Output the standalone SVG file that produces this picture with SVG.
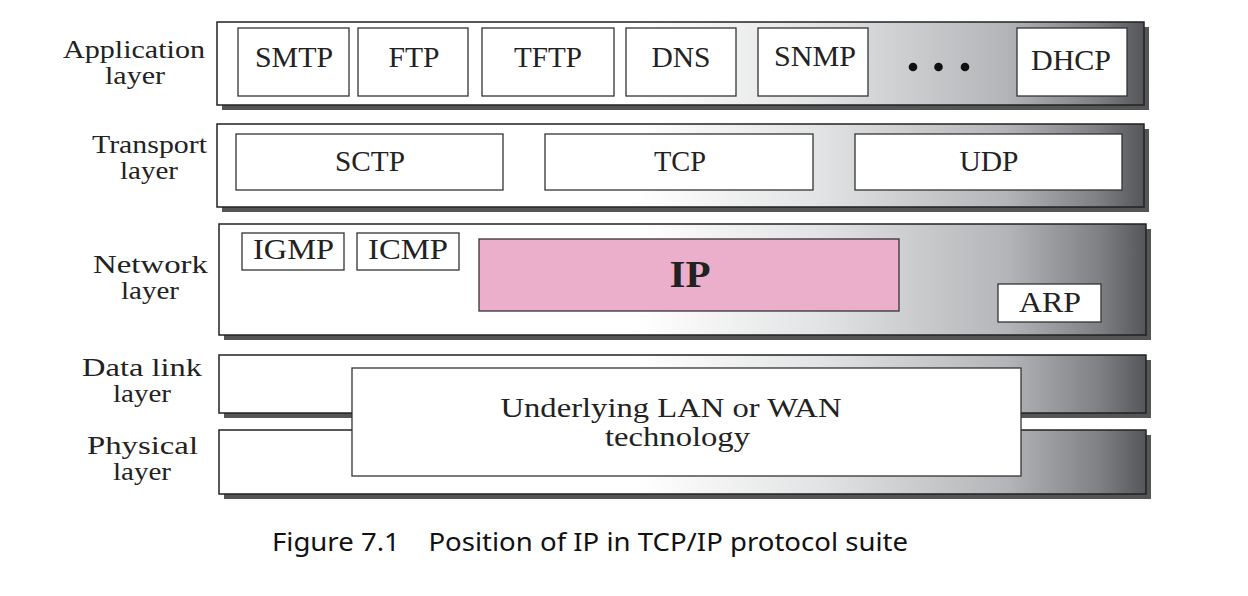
<svg xmlns="http://www.w3.org/2000/svg" width="1248" height="596" viewBox="0 0 1248 596">
<defs>
<linearGradient id="g" x1="0" y1="0" x2="1" y2="0">
<stop offset="0" stop-color="#ffffff"/>
<stop offset="0.45" stop-color="#ffffff"/>
<stop offset="0.65" stop-color="#e2e3e4"/>
<stop offset="0.85" stop-color="#b4b5b8"/>
<stop offset="0.95" stop-color="#7f8083"/>
<stop offset="1" stop-color="#55565a"/>
</linearGradient>
</defs>
<style>
.band{fill:url(#g);stroke:#222;stroke-width:1.5}
.shadow{fill:#555}
.box{fill:#fff;stroke:#333;stroke-width:1.3}
.t{font-family:"Liberation Serif",serif;font-size:30px;fill:#222;text-anchor:middle}
.lbl{font-family:"Liberation Serif",serif;font-size:25px;fill:#222;text-anchor:middle}
.cap{font-family:"Noto Sans","Open Sans",sans-serif;font-size:25px;fill:#111}
</style>
<rect width="1248" height="596" fill="#fff"/>
<g id="layer-labels">
<text class="lbl" x="134" y="58" textLength="142" lengthAdjust="spacingAndGlyphs">Application</text>
<text class="lbl" x="135" y="84" textLength="60" lengthAdjust="spacingAndGlyphs">layer</text>
<text class="lbl" x="149.5" y="153" textLength="115" lengthAdjust="spacingAndGlyphs">Transport</text>
<text class="lbl" x="149" y="179" textLength="58" lengthAdjust="spacingAndGlyphs">layer</text>
<text class="lbl" x="150.5" y="273" textLength="115" lengthAdjust="spacingAndGlyphs">Network</text>
<text class="lbl" x="150" y="299" textLength="58" lengthAdjust="spacingAndGlyphs">layer</text>
<text class="lbl" x="142" y="376" textLength="120" lengthAdjust="spacingAndGlyphs">Data link</text>
<text class="lbl" x="142" y="402" textLength="58" lengthAdjust="spacingAndGlyphs">layer</text>
<text class="lbl" x="142.5" y="454" textLength="111" lengthAdjust="spacingAndGlyphs">Physical</text>
<text class="lbl" x="142" y="480" textLength="58" lengthAdjust="spacingAndGlyphs">layer</text>
</g>
<g id="application-layer">
<rect class="shadow" x="222" y="27" width="927" height="83"/>
<rect class="band" x="217" y="22" width="927" height="83"/>
</g>
<g id="smtp"><rect class="box" x="238" y="28" width="111" height="68"/><text class="t" x="294" y="67" textLength="78" lengthAdjust="spacingAndGlyphs">SMTP</text></g>
<g id="ftp"><rect class="box" x="358" y="28" width="110" height="68"/><text class="t" x="414" y="67" textLength="51" lengthAdjust="spacingAndGlyphs">FTP</text></g>
<g id="tftp"><rect class="box" x="482" y="28" width="132" height="68"/><text class="t" x="548" y="67" textLength="68" lengthAdjust="spacingAndGlyphs">TFTP</text></g>
<g id="dns"><rect class="box" x="626" y="28" width="110" height="68"/><text class="t" x="681" y="67" textLength="59" lengthAdjust="spacingAndGlyphs">DNS</text></g>
<g id="snmp"><rect class="box" x="758" y="28" width="110" height="68"/><text class="t" x="815" y="66" textLength="82" lengthAdjust="spacingAndGlyphs">SNMP</text></g>
<g id="dots" fill="#111"><circle cx="913" cy="67" r="4.3"/><circle cx="938.5" cy="67" r="4.3"/><circle cx="965" cy="67" r="4.3"/></g>
<g id="dhcp"><rect class="box" x="1017" y="28" width="110" height="68"/><text class="t" x="1071" y="70" textLength="80" lengthAdjust="spacingAndGlyphs">DHCP</text></g>
<g id="transport-layer">
<rect class="shadow" x="222" y="129" width="927" height="83"/>
<rect class="band" x="217" y="124" width="927" height="83"/>
</g>
<g id="sctp"><rect class="box" x="236" y="134" width="267" height="56"/><text class="t" x="370" y="171" textLength="70" lengthAdjust="spacingAndGlyphs">SCTP</text></g>
<g id="tcp"><rect class="box" x="545" y="134" width="268" height="56"/><text class="t" x="680" y="171" textLength="52" lengthAdjust="spacingAndGlyphs">TCP</text></g>
<g id="udp"><rect class="box" x="855" y="134" width="267" height="56"/><text class="t" x="989" y="171" textLength="59" lengthAdjust="spacingAndGlyphs">UDP</text></g>
<g id="network-layer">
<rect class="shadow" x="224" y="229" width="927" height="111"/>
<rect class="band" x="219" y="224" width="927" height="111"/>
</g>
<g id="igmp"><rect class="box" x="242" y="233" width="102" height="37"/><text class="t" x="293.5" y="259" textLength="81" lengthAdjust="spacingAndGlyphs">IGMP</text></g>
<g id="icmp"><rect class="box" x="357" y="233" width="102" height="37"/><text class="t" x="408" y="259" textLength="80" lengthAdjust="spacingAndGlyphs">ICMP</text></g>
<g id="ip"><rect x="479" y="239" width="420" height="72" fill="#ebafcc" stroke="#333" stroke-width="1.3"/><text class="t" x="690" y="287" style="font-size:38px;font-weight:bold" textLength="41" lengthAdjust="spacingAndGlyphs">IP</text></g>
<g id="arp"><rect class="box" x="998" y="284" width="103" height="38"/><text class="t" x="1050" y="312" textLength="62" lengthAdjust="spacingAndGlyphs">ARP</text></g>
<g id="data-link-layer">
<rect class="shadow" x="224" y="360" width="927" height="58"/>
<rect class="band" x="219" y="355" width="927" height="58"/>
</g>
<g id="physical-layer">
<rect class="shadow" x="224" y="435" width="927" height="64"/>
<rect class="band" x="219" y="430" width="927" height="64"/>
</g>
<g id="underlying">
<rect class="box" x="352" y="368" width="669" height="108"/>
<text class="t" x="671" y="417" style="font-size:28px" textLength="341" lengthAdjust="spacingAndGlyphs">Underlying LAN or WAN</text>
<text class="t" x="677.5" y="446" style="font-size:28px" textLength="145" lengthAdjust="spacingAndGlyphs">technology</text>
</g>
<g id="caption">
<text class="cap" x="272" y="551" textLength="636" lengthAdjust="spacingAndGlyphs" xml:space="preserve">Figure 7.1    Position of IP in TCP/IP protocol suite</text>
</g>
</svg>
